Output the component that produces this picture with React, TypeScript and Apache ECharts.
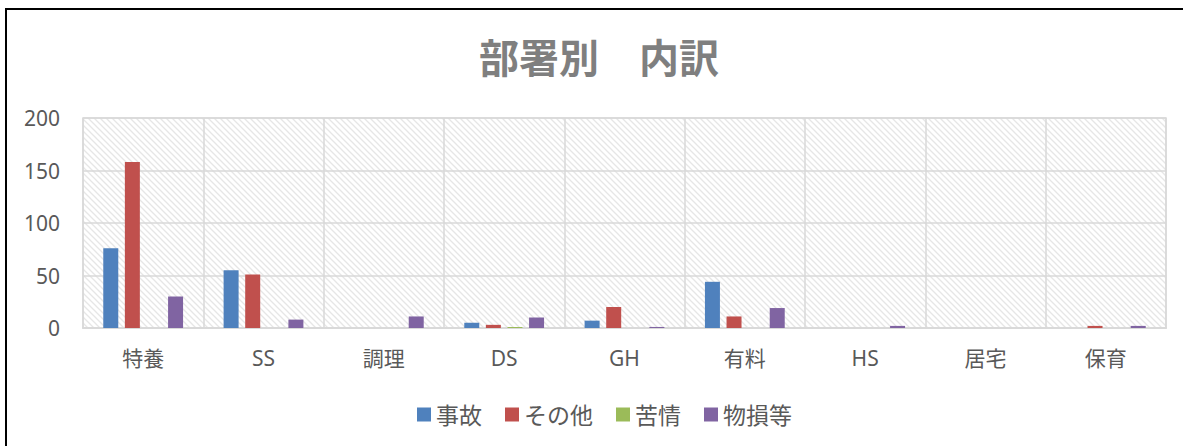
import React, { useEffect, useRef } from "react";
import * as echarts from "echarts";

const categories = ["特養", "SS", "調理", "DS", "GH", "有料", "HS", "居宅", "保育"];
const seriesNames = ["事故", "その他", "苦情", "物損等"];
const jiko = [76, 55, 0, 5, 7, 44, 0, 0, 0];
const sonota = [158, 51, 0, 3, 20, 11, 0, 0, 2];
const kujo = [0, 0, 0, 1, 0, 0, 0, 0, 0];
const butsuson = [30, 8, 11, 10, 1, 19, 2, 0, 2];
const colors = ["#4F81BD", "#C0504D", "#9BBB59", "#8064A2"];
const yTicks = { min: 0, max: 200, interval: 50 };

const hatchSvg =
  '<svg xmlns="http://www.w3.org/2000/svg" width="6" height="6">' +
  '<rect width="6" height="6" fill="#ffffff"/>' +
  '<path d="M-1,-1 L7,7 M-1,5 L1,7 M5,-1 L7,1" stroke="#e6e6e6" stroke-width="1.3"/>' +
  "</svg>";
const hatchUrl = "data:image/svg+xml;charset=utf-8," + encodeURIComponent(hatchSvg);

const FONT = "'Noto Sans', 'Noto Sans CJK JP', sans-serif";

export default function App() {
  const ref = useRef<HTMLDivElement>(null);
  useEffect(() => {
    if (!ref.current) return;
    const chart = echarts.init(ref.current, undefined, { renderer: "svg" });
    const data = [jiko, sonota, kujo, butsuson];
    chart.setOption({
      animation: false,
      backgroundColor: "#ffffff",
      title: {
        text: "部署別　内訳",
        left: 594,
        top: 31,
        textAlign: "center",
        textStyle: {
          fontFamily: "'Noto Sans CJK JP', sans-serif",
          fontSize: 40,
          fontWeight: "bold",
          color: "#7f7f7f",
        },
      },
      legend: {
        data: seriesNames,
        left: 417,
        top: 403,
        padding: 0,
        icon: "rect",
        itemWidth: 14,
        itemHeight: 14,
        itemGap: 23,
        textStyle: { fontFamily: FONT, fontSize: 23, color: "#595959" },
      },
      grid: {
        left: 83,
        top: 118,
        width: 1083,
        height: 210,
        show: true,
        backgroundColor: { image: hatchUrl, repeat: "repeat" },
        borderColor: "#d9d9d9",
        borderWidth: 1.5,
      },
      xAxis: {
        type: "category",
        data: categories,
        boundaryGap: true,
        axisLine: { lineStyle: { color: "#d9d9d9", width: 2 } },
        axisTick: { show: false },
        axisLabel: {
          interval: 0,
          margin: 19,
          fontFamily: FONT,
          fontSize: 21,
          color: "#595959",
        },
        splitLine: { show: true, interval: 0, lineStyle: { color: "#d9d9d9", width: 1.5 } },
      },
      yAxis: {
        type: "value",
        min: yTicks.min,
        max: yTicks.max,
        interval: yTicks.interval,
        axisLine: { show: false },
        axisTick: { show: false },
        axisLabel: { margin: 23, fontFamily: FONT, fontSize: 21, color: "#595959" },
        splitLine: { lineStyle: { color: "#d9d9d9", width: 1.5 } },
      },
      series: seriesNames.map((name, i) => ({
        name,
        type: "bar",
        data: data[i],
        barWidth: 15,
        barGap: "44%",
        itemStyle: { color: colors[i] },
      })),
      graphic: [
        {
          type: "rect",
          shape: { x: 6, y: 9, width: 1300, height: 600 },
          style: { fill: "none", stroke: "#000000", lineWidth: 2 },
          silent: true,
          z: 100,
        },
      ],
    });
    return () => chart.dispose();
  }, []);
  return (
    <div
      ref={ref}
      style={{ position: "absolute", left: 0, top: 0, width: 1183, height: 446 }}
    />
  );
}
